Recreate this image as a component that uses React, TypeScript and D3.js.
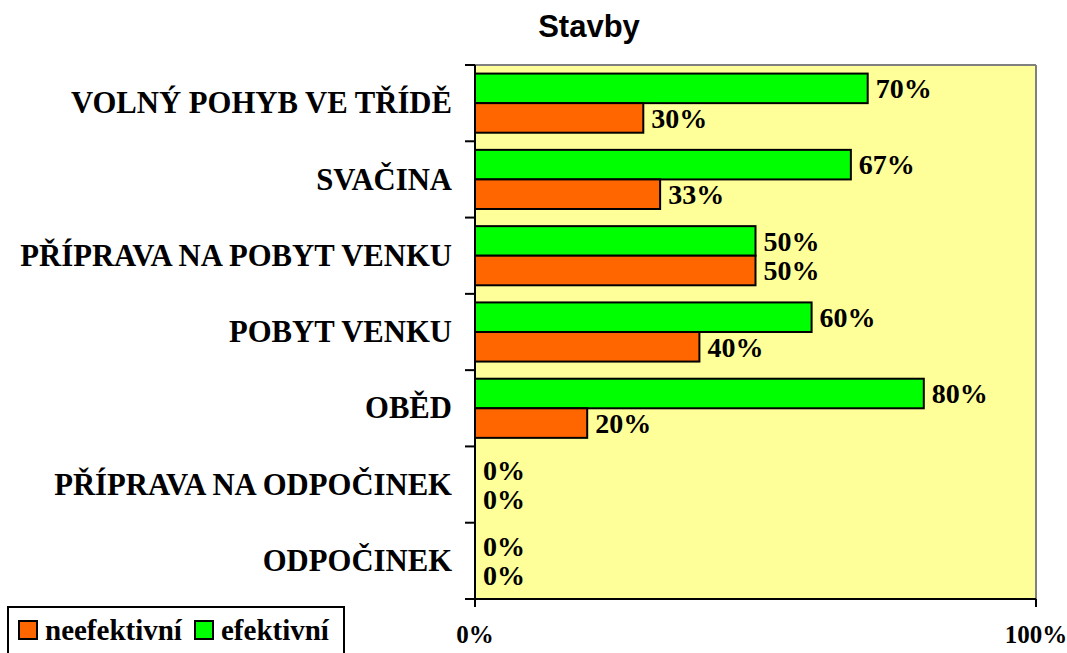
import React from 'react';
import * as d3 from 'd3';

const title = 'Stavby';
const categories = [
  'VOLNÝ POHYB VE TŘÍDĚ',
  'SVAČINA',
  'PŘÍPRAVA NA POBYT VENKU',
  'POBYT VENKU',
  'OBĚD',
  'PŘÍPRAVA NA ODPOČINEK',
  'ODPOČINEK',
];
const seriesNames = ['efektivní', 'neefektivní'];
const efektivni = [70, 67, 50, 60, 80, 0, 0];
const neefektivni = [30, 33, 50, 40, 20, 0, 0];
const xTicks = [0, 100];
const legendOrder = ['neefektivní', 'efektivní'];

const colors: Record<string, string> = {
  'efektivní': '#00FF00',
  'neefektivní': '#FF6600',
};

const W = 1067;
const H = 653;
const plot = { left: 475, right: 1036, top: 65, bottom: 599 };
const serif = '"Liberation Serif", "Times New Roman", serif';
const sans = '"Liberation Sans", Arial, sans-serif';

export default function App() {
  const x = d3.scaleLinear().domain([0, 100]).range([plot.left, plot.right]);
  const y = d3.scaleBand<string>().domain(categories).range([plot.top, plot.bottom]);
  const inner = d3
    .scaleBand<string>()
    .domain(seriesNames)
    .range([0, y.bandwidth()])
    .paddingInner(0)
    .paddingOuter(0.29);
  const valuesBySeries: Record<string, number[]> = {
    'efektivní': efektivni,
    'neefektivní': neefektivni,
  };

  const tickEdges = categories.map((c) => y(c) as number).concat([plot.bottom]);

  return (
    <svg
      width={W}
      height={H}
      style={{ position: 'absolute', left: 0, top: 0, background: '#fff' }}
    >
      <rect x={0} y={0} width={W} height={H} fill="#fff" />
      <text
        x={589}
        y={37}
        textAnchor="middle"
        fontFamily={sans}
        fontWeight="bold"
        fontSize={31}
        fill="#000"
      >
        {title}
      </text>
      {/* plot background */}
      <rect
        x={plot.left}
        y={plot.top}
        width={plot.right - plot.left}
        height={plot.bottom - plot.top}
        fill="#FFFF99"
      />
      <line x1={plot.left} x2={plot.right} y1={plot.top} y2={plot.top} stroke="#808080" strokeWidth={2} />
      <line x1={plot.right} x2={plot.right} y1={plot.top} y2={plot.bottom} stroke="#808080" strokeWidth={2} />

      {/* bars */}
      {categories.map((c, i) =>
        seriesNames.map((s) => {
          const v = valuesBySeries[s][i];
          const by = (y(c) as number) + (inner(s) as number);
          const bh = inner.bandwidth();
          return (
            <g key={c + s}>
              {v > 0 && (
                <rect
                  x={x(0)}
                  y={by}
                  width={x(v) - x(0)}
                  height={bh}
                  fill={colors[s]}
                  stroke="#000"
                  strokeWidth={2}
                />
              )}
              <text
                x={x(v) + 8}
                y={by + bh / 2}
                dy="0.35em"
                fontFamily={serif}
                fontWeight="bold"
                fontSize={28}
                fill="#000"
              >
                {v + '%'}
              </text>
            </g>
          );
        })
      )}

      {/* axes */}
      <line x1={plot.left} x2={plot.left} y1={plot.top} y2={plot.bottom + 8} stroke="#000" strokeWidth={2} />
      <line x1={plot.left - 10} x2={plot.right} y1={plot.bottom} y2={plot.bottom} stroke="#000" strokeWidth={2} />
      {tickEdges.map((t, i) => (
        <line key={'yt' + i} x1={plot.left - 10} x2={plot.left} y1={t} y2={t} stroke="#000" strokeWidth={2} />
      ))}
      {xTicks.map((t) => (
        <g key={'xt' + t}>
          <line x1={x(t)} x2={x(t)} y1={plot.bottom} y2={plot.bottom + 8} stroke="#000" strokeWidth={2} />
          <text
            x={x(t)}
            y={643}
            textAnchor="middle"
            fontFamily={serif}
            fontWeight="bold"
            fontSize={25}
            fill="#000"
          >
            {t + '%'}
          </text>
        </g>
      ))}
      {categories.map((c) => (
        <text
          key={'cl' + c}
          x={452}
          y={(y(c) as number) + y.bandwidth() / 2}
          dy="0.33em"
          textAnchor="end"
          fontFamily={serif}
          fontWeight="bold"
          fontSize={30.7}
          fill="#000"
        >
          {c}
        </text>
      ))}

      {/* legend */}
      <rect x={8} y={607} width={336} height={60} fill="#fff" stroke="#000" strokeWidth={2} />
      {legendOrder.map((s, i) => {
        const lx = i === 0 ? 19 : 195;
        return (
          <g key={'lg' + s}>
            <rect x={lx} y={621} width={18} height={18} fill={colors[s]} stroke="#000" strokeWidth={2} />
            <text
              x={lx + 26}
              y={640}
              fontFamily={serif}
              fontWeight="bold"
              fontSize={29}
              fill="#000"
            >
              {s}
            </text>
          </g>
        );
      })}
    </svg>
  );
}
